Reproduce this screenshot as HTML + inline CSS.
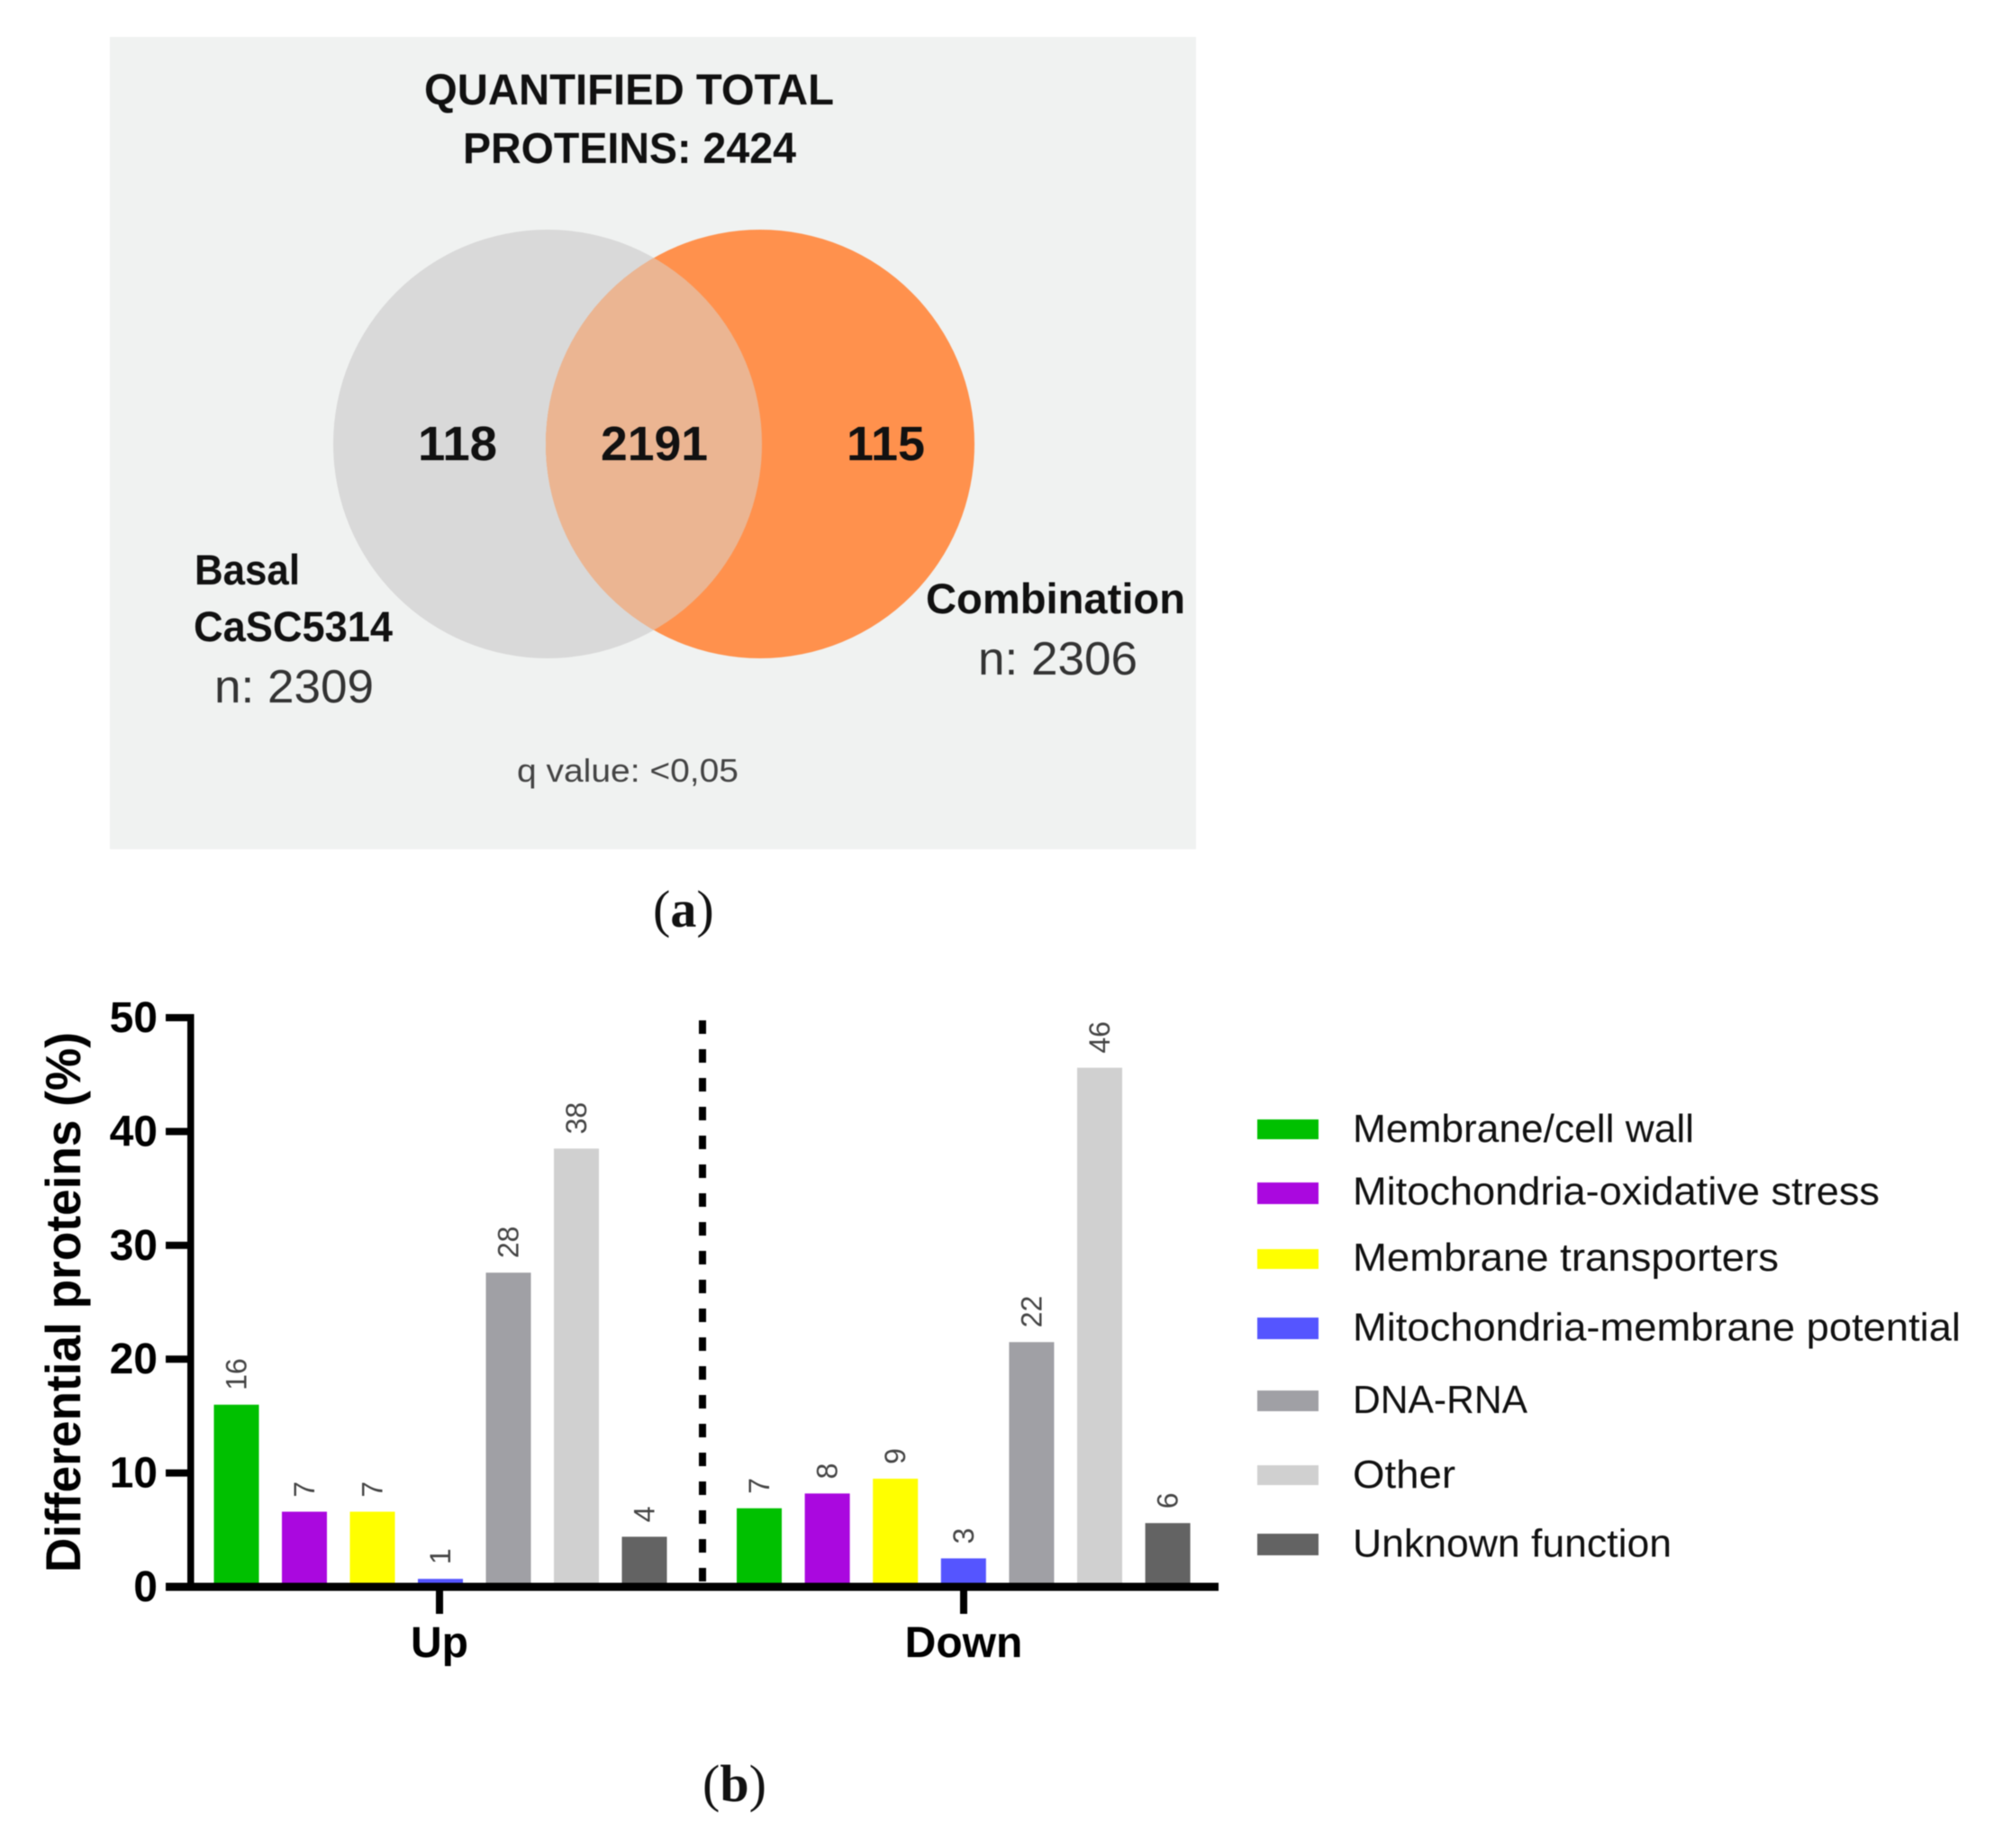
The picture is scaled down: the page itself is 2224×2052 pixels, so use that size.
<!DOCTYPE html>
<html lang="en">
<head>
<meta charset="utf-8">
<title>Quantified proteins and differential protein categories</title>
<style>
html,body{margin:0;padding:0;background:#fff;width:2224px;height:2052px;overflow:hidden}
svg{display:block;filter:blur(0.6px)}
text{font-family:"Liberation Sans",Arial,sans-serif;fill:#111}
.serif{font-family:"Liberation Serif",serif;fill:#111}
.cat-0{fill:#00c000}.cat-1{fill:#aa08df}.cat-2{fill:#ffff00}.cat-3{fill:#5555ff}
.cat-4{fill:#a0a0a5}.cat-5{fill:#d0d0d0}.cat-6{fill:#636363}
.tick-label{font-weight:700;font-size:48px;fill:#000;text-anchor:end}
.bar-label{font-size:32px;fill:#444}
.legend-label{font-size:44px;fill:#111}
</style>
</head>
<body>
<svg id="figure" xmlns="http://www.w3.org/2000/svg" width="2224" height="2052" viewBox="0 0 2224 2052">
  <rect width="2224" height="2052" fill="#ffffff"/>

  <g id="venn-panel">
    <defs>
      <clipPath id="left-clip"><circle cx="608" cy="493" r="238"/></clipPath>
    </defs>
    <rect x="122" y="41" width="1206" height="902" fill="#f0f2f1"/>
    <circle cx="608" cy="493" r="238" fill="#d9d9d9"/>
    <circle cx="844" cy="493" r="238" fill="#ff914d"/>
    <circle cx="844" cy="493" r="238" fill="#ebb592" clip-path="url(#left-clip)"/>
    <text x="471" y="116" font-size="48" font-weight="700" textLength="455" lengthAdjust="spacingAndGlyphs">QUANTIFIED TOTAL</text>
    <text x="514" y="181" font-size="48" font-weight="700" textLength="370" lengthAdjust="spacingAndGlyphs">PROTEINS: 2424</text>
    <text x="464" y="511" font-size="54" font-weight="700" textLength="88" lengthAdjust="spacingAndGlyphs">118</text>
    <text x="667" y="511" font-size="54" font-weight="700" textLength="119" lengthAdjust="spacingAndGlyphs">2191</text>
    <text x="940" y="511" font-size="54" font-weight="700" textLength="87" lengthAdjust="spacingAndGlyphs">115</text>
    <text x="216" y="649" font-size="47" font-weight="700" textLength="117" lengthAdjust="spacingAndGlyphs">Basal</text>
    <text x="215" y="712" font-size="47" font-weight="700" textLength="221" lengthAdjust="spacingAndGlyphs">CaSC5314</text>
    <text x="238" y="780" font-size="52" textLength="177" lengthAdjust="spacingAndGlyphs" style="fill:#333">n: 2309</text>
    <text x="1028" y="681" font-size="47" font-weight="700" textLength="288" lengthAdjust="spacingAndGlyphs">Combination</text>
    <text x="1086" y="749" font-size="52" textLength="177" lengthAdjust="spacingAndGlyphs" style="fill:#333">n: 2306</text>
    <text x="574" y="868" font-size="36" textLength="246" lengthAdjust="spacingAndGlyphs" style="fill:#444">q value: &lt;0,05</text>
  </g>
  <text class="serif" x="725" y="1029" font-size="58">(<tspan font-weight="700">a</tspan>)</text>

  <g id="bar-chart">
    <g id="bars"></g>
    <g id="bar-labels"></g>
    <line x1="780" y1="1133" x2="780" y2="1758" stroke="#000" stroke-width="8" stroke-dasharray="15 17"/>
    <g id="axes"></g>
    <text transform="translate(89 1746) rotate(-90)" font-size="55" font-weight="700" textLength="600" lengthAdjust="spacingAndGlyphs" style="fill:#000">Differential proteins (%)</text>
  </g>

  <g id="legend">
    <g><rect class="cat-0" x="1396" y="1243" width="68" height="22"/><text class="legend-label" x="1502" y="1268" textLength="379" lengthAdjust="spacingAndGlyphs">Membrane/cell wall</text></g>
    <g><rect class="cat-1" x="1396" y="1313" width="68" height="24"/><text class="legend-label" x="1502" y="1337.5" textLength="585" lengthAdjust="spacingAndGlyphs">Mitochondria-oxidative stress</text></g>
    <g><rect class="cat-2" x="1396" y="1387" width="68" height="22"/><text class="legend-label" x="1502" y="1411" textLength="473" lengthAdjust="spacingAndGlyphs">Membrane transporters</text></g>
    <g><rect class="cat-3" x="1396" y="1463" width="68" height="24"/><text class="legend-label" x="1502" y="1488.5" textLength="675" lengthAdjust="spacingAndGlyphs">Mitochondria-membrane potential</text></g>
    <g><rect class="cat-4" x="1396" y="1544" width="68" height="23"/><text class="legend-label" x="1502" y="1569" textLength="194" lengthAdjust="spacingAndGlyphs">DNA-RNA</text></g>
    <g><rect class="cat-5" x="1396" y="1627" width="68" height="22"/><text class="legend-label" x="1502" y="1652" textLength="114" lengthAdjust="spacingAndGlyphs">Other</text></g>
    <g><rect class="cat-6" x="1396" y="1703" width="68" height="24"/><text class="legend-label" x="1502" y="1728.5" textLength="354" lengthAdjust="spacingAndGlyphs">Unknown function</text></g>
  </g>
  <text class="serif" x="780" y="2000" font-size="58">(<tspan font-weight="700">b</tspan>)</text>
</svg>

<script>
const groups = ['Up', 'Down'];
const categories = ['membrane-cell-wall', 'mitochondria-oxidative-stress', 'membrane-transporters', 'mitochondria-membrane-potential', 'dna-rna', 'other', 'unknown-function'];
const upValues = [16, 6.6, 6.6, 0.7, 27.6, 38.5, 4.4];
const downValues = [6.9, 8.2, 9.5, 2.5, 21.5, 45.6, 5.6];
const upLabels = ['16', '7', '7', '1', '28', '38', '4'];
const downLabels = ['7', '8', '9', '3', '22', '46', '6'];
const yTicks = [0, 10, 20, 30, 40, 50];

const SVGNS = 'http://www.w3.org/2000/svg';
const AXIS_ZERO = 1762, AXIS_TOP = 1130, Y_MAX = 50;
const GROUP_START = [262.5, 843], BAR_STEP = [75.5, 75.6], BAR_WIDTH = 50;
const GROUP_TICK = [488, 1070];

function yScale(v) { return AXIS_ZERO - (v / Y_MAX) * (AXIS_ZERO - AXIS_TOP); }
function xScale(g, i) { return GROUP_START[g] + i * BAR_STEP[g]; }
function make(tag, attrs, parent) {
  const n = document.createElementNS(SVGNS, tag);
  for (const k in attrs) n.setAttribute(k, attrs[k]);
  parent.appendChild(n);
  return n;
}

const barsG = document.getElementById('bars');
const labelsG = document.getElementById('bar-labels');
const axesG = document.getElementById('axes');

[upValues, downValues].forEach(function (values, g) {
  const printed = g === 0 ? upLabels : downLabels;
  values.forEach(function (v, i) {
    const cx = xScale(g, i);
    const top = yScale(v);
    const bar = make('rect', { x: cx - BAR_WIDTH / 2, y: top, width: BAR_WIDTH, height: AXIS_ZERO - top, class: 'cat-' + i }, barsG);
    
    
    const tx = cx + 11, ty = top - 16;
    const label = make('text', { x: tx, y: ty, class: 'bar-label', transform: 'rotate(-90 ' + tx + ' ' + ty + ')' }, labelsG);
    label.textContent = printed[i];
    
    
  });
});

const yAxis = make('rect', { x: 208, y: AXIS_TOP - 4, width: 7.5, height: AXIS_ZERO - AXIS_TOP + 8, fill: '#000' }, axesG);


const xAxis = make('rect', { x: 184, y: AXIS_ZERO - 4.5, width: 1169, height: 9, fill: '#000' }, axesG);



yTicks.forEach(function (t) {
  const py = yScale(t);
  const tick = make('rect', { x: 184, y: py - 4, width: 26, height: 8, fill: '#000' }, axesG);
  
  
  const lab = make('text', { x: 175, y: py + 16, class: 'tick-label' }, axesG);
  lab.textContent = String(t);
  
  
});

groups.forEach(function (name, g) {
  const tick = make('rect', { x: GROUP_TICK[g] - 4, y: AXIS_ZERO, width: 8, height: 30, fill: '#000' }, axesG);
  
  
  const lab = make('text', { x: GROUP_TICK[g], y: 1840, 'font-size': 48, 'font-weight': 700, 'text-anchor': 'middle', style: 'fill:#000' }, axesG);
  lab.textContent = name;
  
  
});
</script>
</body>
</html>
